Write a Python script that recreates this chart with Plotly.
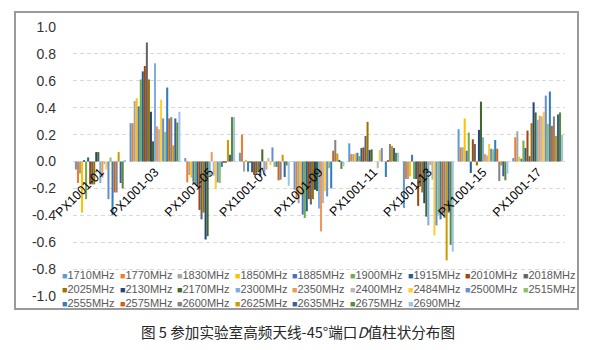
import plotly.graph_objects as go

categories = ["PX1001-01", "PX1001-03", "PX1001-05", "PX1001-07", "PX1001-09",
              "PX1001-11", "PX1001-13", "PX1001-15", "PX1001-17"]

series_names = ["1710MHz", "1770MHz", "1830MHz", "1850MHz", "1885MHz", "1900MHz",
                "1915MHz", "2010MHz", "2018MHz", "2025MHz", "2130MHz", "2170MHz",
                "2300MHz", "2350MHz", "2400MHz", "2484MHz", "2500MHz", "2515MHz",
                "2555MHz", "2575MHz", "2600MHz", "2625MHz", "2635MHz", "2675MHz",
                "2690MHz"]

series_colors = ["#5B9BD5", "#ED7D31", "#A5A5A5", "#FFC000", "#4472C4", "#70AD47",
                 "#255E91", "#9E480E", "#636363", "#997300", "#264478", "#43682B",
                 "#7CAFDD", "#F1975A", "#B7B7B7", "#FFCD33", "#698ED0", "#8CC168",
                 "#327DC2", "#D26012", "#848484", "#CC9A00", "#3A5DA0", "#5A8A39",
                 "#9DC3E6"]

# D values per category (one value per frequency, in series order)
v01 = [-0.06, -0.16, -0.09, -0.38, 0.01, -0.28, 0.03, -0.17, -0.17, -0.17, 0.07, 0.07,
       -0.16, -0.12, -0.02, -0.06, -0.28, 0.03, -0.40, -0.23, -0.23, 0.07, -0.16, -0.20, 0.01]
v03 = [0.285, 0.285, 0.45, 0.47, 0.41, 0.61, 0.67, 0.71, 0.885, 0.61, 0.37, 0.15,
       0.73, 0.26, 0.24, 0.46, 0.32, 0.22, 0.55, 0.32, 0.33, 0.12, 0.32, 0.29, 0.37]
v05 = [0.025, -0.155, -0.10, -0.12, -0.15, -0.17, -0.185, -0.36, -0.43, -0.38, -0.58, -0.555,
       -0.10, 0.07, -0.105, -0.205, -0.155, -0.16, -0.04, -0.01, -0.005, 0.16, 0.05, 0.33, 0.33]
v07 = [0.065, 0.20, -0.075, 0.012, -0.075, -0.01, -0.08, -0.10, -0.09, -0.08, -0.11, 0.09,
       -0.10, -0.06, 0.025, -0.025, 0.105, -0.04, -0.04, -0.14, -0.135, 0.05, -0.115, -0.03, -0.18]
v09 = [-0.21, -0.28, -0.31, -0.25, -0.395, -0.42, -0.37, -0.28, -0.32, -0.28, -0.21, -0.22,
       -0.35, -0.52, -0.31, -0.22, -0.26, -0.05, -0.20, 0.08, 0.16, 0.06, 0.012, -0.055, -0.035]
v11 = [0.135, 0.055, 0.055, 0.06, 0.065, 0.04, 0.10, 0.105, 0.19, 0.295, 0.085, 0.09,
       0.0, 0.0, -0.05, 0.085, 0.10, 0.0, -0.115, 0.005, 0.13, 0.115, 0.10, 0.065, 0.065]
v13 = [-0.345, -0.13, -0.13, -0.11, 0.05, -0.13, -0.13, -0.33, -0.185, -0.23, -0.31, -0.41,
       -0.475, -0.025, -0.135, -0.55, -0.475, -0.395, -0.43, -0.38, -0.42, -0.735, -0.38, -0.62, -0.67]
v15 = [0.24, 0.105, 0.105, 0.32, 0.08, 0.215, -0.085, 0.165, 0.13, -0.03, 0.235, 0.445,
       0.18, 0.055, 0.045, 0.13, 0.095, 0.09, 0.16, 0.095, -0.145, -0.03, -0.11, -0.14, -0.09]
v17 = [0.025, 0.18, 0.225, 0.035, 0.02, 0.155, 0.10, 0.23, 0.04, 0.285, 0.44, 0.365,
       0.31, 0.34, 0.335, 0.37, 0.49, 0.28, 0.52, 0.265, 0.335, 0.19, 0.35, 0.365, 0.20]

y_tickvals = [-1.0, -0.8, -0.6, -0.4, -0.2, 0.0, 0.2, 0.4, 0.6, 0.8, 1.0]
y_ticktext = ["-1.0", "-0.8", "-0.6", "-0.4", "-0.2", "0.0", "0.2", "0.4", "0.6", "0.8", "1.0"]

caption = "图 5 参加实验室高频天线-45°端口<i>D</i>值柱状分布图"

by_category = [v01, v03, v05, v07, v09, v11, v13, v15, v17]

# ---- layout geometry (pixels) ----
W, H = 600, 350
L, R, T, B = 73, 35, 27, 54
PW, PH = W - L - R, H - T - B


def px_x(p):
    return (p - L) / PW


def px_y(p):
    return (H - B - p) / PH


fig = go.Figure()
for j, (name, color) in enumerate(zip(series_names, series_colors)):
    fig.add_trace(go.Bar(
        x=categories,
        y=[vals[j] for vals in by_category],
        name=name,
        marker=dict(color=color, line=dict(width=0)),
        showlegend=False,
    ))

annotations = []
# legend drawn as text entries (3 rows x 9 columns)
for i, (name, color) in enumerate(zip(series_names, series_colors)):
    r, c = divmod(i, 9)
    annotations.append(dict(
        x=px_x(61 + 57.6 * c), y=px_y(275 + 13.8 * r),
        xref="paper", yref="paper", xanchor="left", yanchor="middle",
        showarrow=False, borderpad=0,
        text=f'<span style="color:{color};font-size:9px">■</span>{name}',
        font=dict(family="Liberation Sans, Arial", size=11, color="#595959"),
    ))

annotations.append(dict(
    x=px_x(298), y=px_y(331), xref="paper", yref="paper",
    xanchor="center", yanchor="middle", showarrow=False,
    text=caption,
    font=dict(family="Noto Sans CJK SC", size=14.6, color="#262626"),
))

fig.update_layout(
    width=W, height=H, autosize=False,
    margin=dict(l=L, r=R, t=T, b=B, pad=0),
    paper_bgcolor="white", plot_bgcolor="white",
    barmode="group", bargap=0.07, bargroupgap=0,
    showlegend=False,
    annotations=annotations,
    shapes=[dict(type="rect", xref="paper", yref="paper",
                 x0=px_x(15), x1=px_x(578), y0=px_y(309), y1=px_y(12),
                 line=dict(color="#9A9A9A", width=2), layer="below")],
    xaxis=dict(
        type="category", anchor="free", position=0.5,
        showgrid=False, showline=False, zeroline=False, ticks="",
        tickangle=-45,
        tickfont=dict(family="Liberation Sans, Arial", size=12.5, color="#000000"),
    ),
    yaxis=dict(
        range=[-1.0, 1.0], tickvals=y_tickvals, ticktext=y_ticktext,
        showgrid=True, gridcolor="#D9D9D9", griddash="4px,3px", gridwidth=1,
        zeroline=False, showline=False, ticks="", ticklabelstandoff=16,
        tickfont=dict(family="Liberation Sans, Arial", size=14, color="#333333"),
    ),
)

fig.write_html("out.html")
